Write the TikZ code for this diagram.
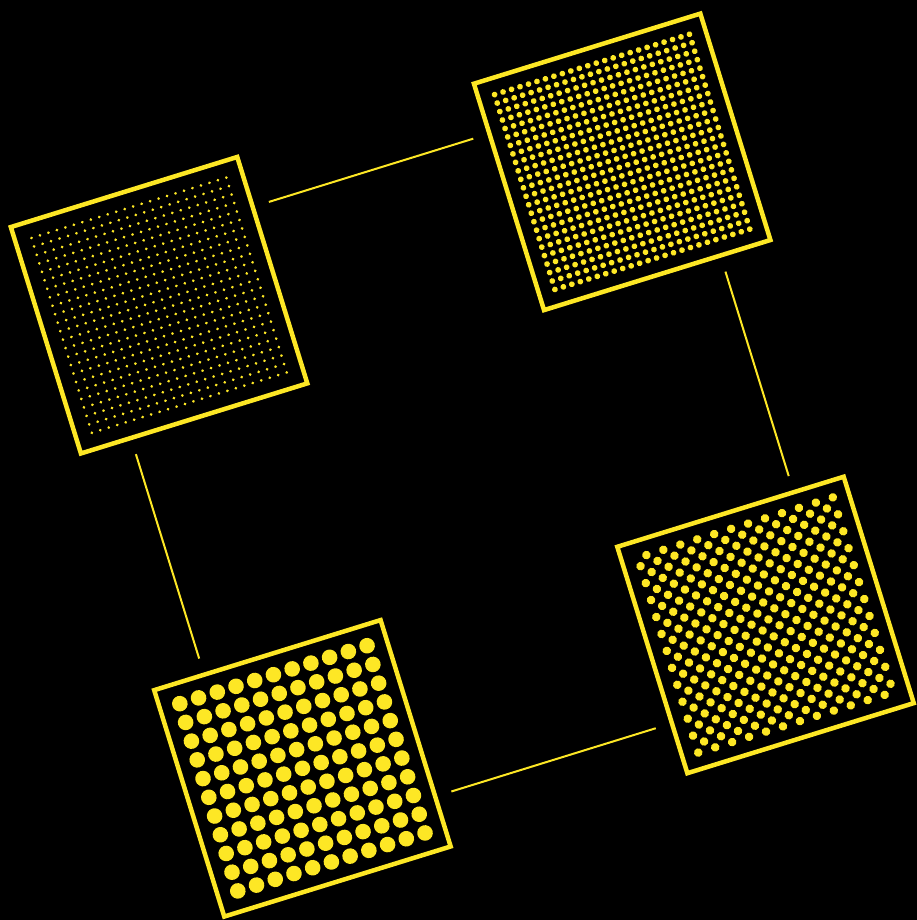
\documentclass[tikz,border=0pt]{standalone}
\definecolor{gold}{HTML}{FDE725}
\begin{document}
\begin{tikzpicture}[x=1pt, y=1pt,
  panel/.style={draw=gold, line width=4.5pt, minimum size=237pt, inner sep=0pt, outer sep=0pt},
  link/.style={draw=gold, line width=2pt},
  dot/.style={fill=gold}
]
\fill[black] (0,0) rectangle (917,920);
\useasboundingbox (0,0) rectangle (917,920);
\begin{scope}[shift={(462.3,454.9)}, rotate=17.2, transform shape]
\node[panel] (fine) at (-242.4,242.4) {};
\node[panel] (small) at (242.4,242.4) {};
\node[panel] (stagger) at (242.4,-242.4) {};
\node[panel] (coarse) at (-242.4,-242.4) {};
\coordinate (top-a) at (-107,308.6);
\coordinate (top-b) at (107,308.6);
\coordinate (right-a) at (308.6,107);
\coordinate (right-b) at (308.6,-107);
\coordinate (bottom-a) at (107,-308.6);
\coordinate (bottom-b) at (-107,-308.6);
\coordinate (left-a) at (-308.6,-107);
\coordinate (left-b) at (-308.6,107);
\draw[link] (top-a) -- (top-b);
\draw[link] (right-a) -- (right-b);
\draw[link] (bottom-a) -- (bottom-b);
\draw[link] (left-a) -- (left-b);
\foreach \i in {0,...,23}
  \foreach \j in {0,...,23}
    \fill[dot] (-344.4+\i*8.87, 344.4-\j*8.87) circle (1.5);
\foreach \i in {0,...,23}
  \foreach \j in {0,...,23}
    \fill[dot] (140.4+\i*8.87, 344.4-\j*8.87) circle (2.9);
\foreach \j in {0,...,23} {
  \pgfmathtruncatemacro\st{mod(\j+1,2)}
  \foreach \k in {0,...,11}
    \fill[dot] (140.4+\st*8.87+\k*17.74, -140.4-\j*8.87) circle (4.3);
}
\foreach \i in {0,...,10}
  \foreach \j in {0,...,10}
    \fill[dot] (-340.4+\i*19.6, -144.4-\j*19.6) circle (7.8);
\end{scope}
\end{tikzpicture}
\end{document}
